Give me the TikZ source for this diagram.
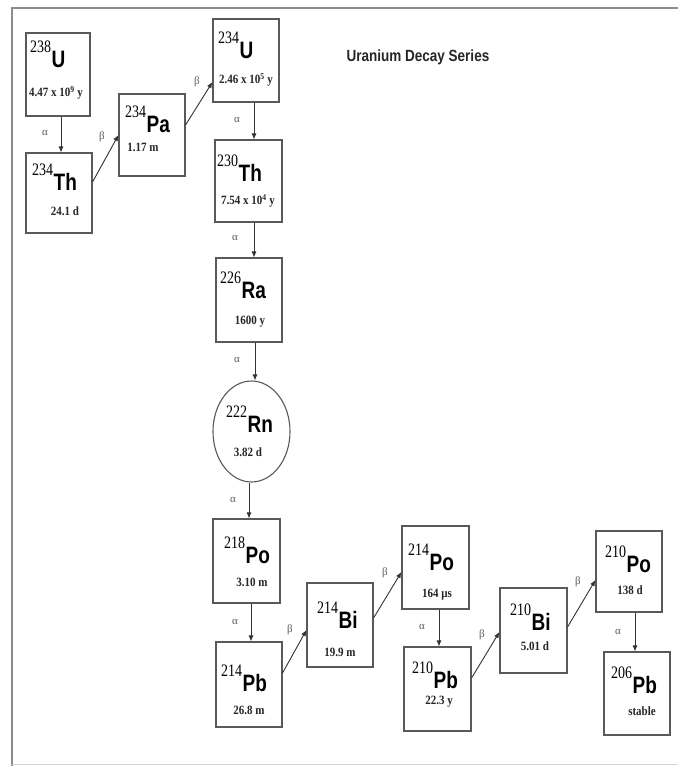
\documentclass[tikz,border=0pt]{standalone}
\usepackage{fontspec}
\setmainfont{Liberation Serif}
\newfontfamily\symfnt{Liberation Sans}
\usetikzlibrary{arrows.meta,shapes.geometric}
\newcommand{\iso}[2]{\scalebox{1}[1.25]{\raisebox{12pt}{\fontsize{14}{14}\selectfont #1}\hspace{0.5pt}{\symfnt\bfseries\fontsize{19}{19}\selectfont #2}}}
\newcommand{\hl}[1]{\scalebox{1}[1.15]{\bfseries\fontsize{11}{11}\selectfont #1}}
\begin{document}
\begin{tikzpicture}[x=1pt,y=-1pt,
  nbox/.style={draw=black!65, line width=1.1pt, minimum width=66pt, minimum height=83pt, inner sep=0pt},
  nell/.style={draw=black!65, line width=1.1pt, ellipse, minimum width=77pt, minimum height=101pt, inner sep=0pt},
  isol/.style={anchor=base west, inner sep=0pt},
  hlife/.style={anchor=center, inner sep=0pt, text=black!85},
  lab/.style={inner sep=0pt, text=black!65, font=\fontsize{11}{11}\selectfont},
  arr/.style={draw=black!80, line width=0.9pt, -{Latex[length=6pt,width=5pt]}},
  ttl/.style={inner sep=0pt, text=black!85}
]
\useasboundingbox (0,0) rectangle (678,766);
\fill[white] (0,0) rectangle (678,766);
% frame
\draw[black!45, line width=2pt] (678,8) -- (12,8) -- (12,766);
\draw[black!18, line width=1pt] (12,764.5) -- (678,764.5);

% title
\node[ttl] (title) at (418,57) {\scalebox{1}[1.2]{\symfnt\bfseries\fontsize{13.5}{14}\selectfont Uranium Decay Series}};

% boxes
\node[nbox, minimum width=64pt] (u238) at (58,74.5) {};
\node[nbox, minimum height=80pt] (th234) at (59,193) {};
\node[nbox, minimum height=82pt] (pa234) at (152,135) {};
\node[nbox] (u234) at (246,60.5) {};
\node[nbox, minimum width=67pt, minimum height=82pt] (th230) at (248.5,181) {};
\node[nbox, minimum height=84pt] (ra226) at (249,300) {};
\node[nell] (rn222) at (251.5,431.5) {};
\node[nbox, minimum width=67pt, minimum height=84pt] (po218) at (246.5,561) {};
\node[nbox, minimum height=85pt] (pb214) at (249,684.5) {};
\node[nbox, minimum height=84pt] (bi214) at (340,625) {};
\node[nbox, minimum width=67pt] (po214) at (435.5,567.5) {};
\node[nbox, minimum width=67pt, minimum height=84pt] (pb210) at (437.5,689) {};
\node[nbox, minimum width=67pt, minimum height=85pt] (bi210) at (533.5,630.5) {};
\node[nbox, minimum height=81pt] (po210) at (629,571.5) {};
\node[nbox] (pb206) at (637,693.5) {};

% isotope labels
\node[isol] (tu238) at (30,67) {\iso{238}{U}};
\node[isol] (tth234) at (32,190) {\iso{234}{Th}};
\node[isol] (tpa234) at (125,132) {\iso{234}{Pa}};
\node[isol] (tu234) at (218,58) {\iso{234}{U}};
\node[isol] (tth230) at (217,181) {\iso{230}{Th}};
\node[isol] (tra226) at (220,298) {\iso{226}{Ra}};
\node[isol] (trn222) at (226,432) {\iso{222}{Rn}};
\node[isol] (tpo218) at (224,563) {\iso{218}{Po}};
\node[isol] (tpb214) at (221,691) {\iso{214}{Pb}};
\node[isol] (tbi214) at (317,628) {\iso{214}{Bi}};
\node[isol] (tpo214) at (408,570) {\iso{214}{Po}};
\node[isol] (tpb210) at (412,688) {\iso{210}{Pb}};
\node[isol] (tbi210) at (510,630) {\iso{210}{Bi}};
\node[isol] (tpo210) at (605,572) {\iso{210}{Po}};
\node[isol] (tpb206) at (611,693) {\iso{206}{Pb}};

% half-lives
\node[hlife] (hu238) at (56,93) {\hl{4.47 x 10\textsuperscript{9} y}};
\node[hlife] (hth234) at (65,211) {\hl{24.1 d}};
\node[hlife] (hpa234) at (143,147) {\hl{1.17 m}};
\node[hlife] (hu234) at (246,80) {\hl{2.46 x 10\textsuperscript{5} y}};
\node[hlife] (hth230) at (248,201) {\hl{7.54 x 10\textsuperscript{4} y}};
\node[hlife] (hra226) at (250,322) {\hl{1600 y}};
\node[hlife] (hrn222) at (248,452) {\hl{3.82 d}};
\node[hlife] (hpo218) at (252,582) {\hl{3.10 m}};
\node[hlife] (hpb214) at (249,710) {\hl{26.8 m}};
\node[hlife] (hbi214) at (340,652) {\hl{19.9 m}};
\node[hlife] (hpo214) at (437,595) {\hl{164 μs}};
\node[hlife] (hpb210) at (439,702) {\hl{22.3 y}};
\node[hlife] (hbi210) at (535,646) {\hl{5.01 d}};
\node[hlife] (hpo210) at (630,590) {\hl{138 d}};
\node[hlife] (hpb206) at (642,711) {\hl{stable}};

% alpha arrows
\draw[arr] ([xshift=3pt]u238.south) -- ([xshift=2pt]th234.north);
\draw[arr] ([xshift=8pt]u234.south) -- ([xshift=5.5pt]th230.north);
\draw[arr] ([xshift=5.5pt]th230.south) -- ([xshift=5pt]ra226.north);
\draw[arr] ([xshift=6pt]ra226.south) -- ([xshift=3.5pt]rn222.north);
\draw[arr] ([xshift=-2.5pt]rn222.south) -- ([xshift=2.5pt]po218.north);
\draw[arr] ([xshift=4.5pt]po218.south) -- ([xshift=2pt]pb214.north);
\draw[arr] ([xshift=3.5pt]po214.south) -- ([xshift=1.5pt]pb210.north);
\draw[arr] ([xshift=6pt]po210.south) -- ([xshift=-2pt]pb206.north);

% beta arrows
\draw[arr] ([yshift=11pt]th234.east) -- (pa234.west);
\draw[arr] ([yshift=10pt]pa234.east) -- ([yshift=-21.5pt]u234.west);
\draw[arr] ([yshift=11.5pt]pb214.east) -- ([yshift=-5pt]bi214.west);
\draw[arr] ([yshift=7pt]bi214.east) -- ([yshift=-4.5pt]po214.west);
\draw[arr] ([yshift=11pt]pb210.east) -- ([yshift=-1.5pt]bi210.west);
\draw[arr] ([yshift=3.5pt]bi210.east) -- ([yshift=-8.5pt]po210.west);

% arrow labels
\node[lab] (a1) at (45,133) {α};
\node[lab] (a2) at (237,120) {α};
\node[lab] (a3) at (235,238) {α};
\node[lab] (a4) at (237,360) {α};
\node[lab] (a5) at (233,500) {α};
\node[lab] (a6) at (235,622) {α};
\node[lab] (a7) at (422,627) {α};
\node[lab] (a8) at (618,632) {α};
\node[lab] (b1) at (102,137) {β};
\node[lab] (b2) at (197,82) {β};
\node[lab] (b3) at (290,630) {β};
\node[lab] (b4) at (385,573) {β};
\node[lab] (b5) at (482,635) {β};
\node[lab] (b6) at (578,582) {β};
\end{tikzpicture}
\end{document}
